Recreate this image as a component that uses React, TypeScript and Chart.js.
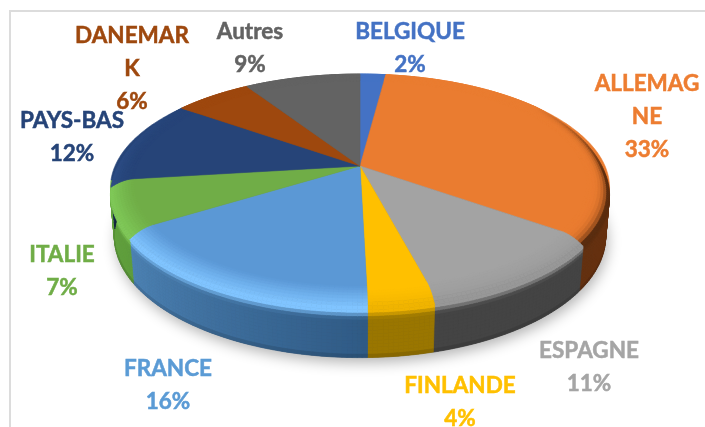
import React, { useEffect, useRef } from "react";
import { Chart, registerables } from "chart.js";

Chart.register(...registerables);

const countries = ["BELGIQUE", "ALLEMAGNE", "ESPAGNE", "FINLANDE", "FRANCE", "ITALIE", "PAYS-BAS", "DANEMARK", "Autres"];
const shares = [2, 33, 11, 3.6, 16.4, 7, 12, 6, 9];
const labelLines = [["BELGIQUE"], ["ALLEMAG", "NE"], ["ESPAGNE"], ["FINLANDE"], ["FRANCE"], ["ITALIE"], ["PAYS-BAS"], ["DANEMAR", "K"], ["Autres"]];
const topColors = ["#4472c4", "#ea7c30", "#a3a3a3", "#ffc000", "#5b98d5", "#70ad47", "#264478", "#9e480e", "#636363"];
const textColors = ["#4472c4", "#ed7d31", "#a5a5a5", "#ffc000", "#5b9bd5", "#70ad47", "#264478", "#9e480e", "#636363"];
const rimColors = ["#4472c4", "#5a2c0e", "#989898", "#f0b400", "#80c4ff", "#7fc858", "#2c4c84", "#9e480e", "#636363"];
const bevelSharpness = [2, 5, 2, 2.5, 1.3, 1.3, 2, 2, 2];
const wallStart = ["#2a4a80", "#6e3612", "#444444", "#9a7600", "#2f5a85", "#5f9e3c", "#162848", "#5e2b08", "#3a3a3a"];
const wallEnd = ["#2a4a80", "#643010", "#444444", "#9a7600", "#4c82b4", "#62a23e", "#162848", "#5e2b08", "#3a3a3a"];
const labelCenters = [[410, 32], [647, 84], [589, 351], [460, 386], [168, 369], [62, 255], [72, 121], [132, 36], [250, 32]];

const PERSPECTIVE = 0.19;
const SCALE_X = 245 / 166;
const SCALE_Y = 109.4 / 166;
const DEPTH = 48;
const BEVEL_DROP = 7;
const BEVEL_START = 0.91;
const BOTTOM_SHRINK = 0.985;
const LINE_HEIGHT = 33;

type RGB = [number, number, number];
const rgb = (hex: string): RGB => [parseInt(hex.slice(1, 3), 16), parseInt(hex.slice(3, 5), 16), parseInt(hex.slice(5, 7), 16)];
const mix = (a: RGB, b: RGB, f: number): RGB => [a[0] + (b[0] - a[0]) * f, a[1] + (b[1] - a[1]) * f, a[2] + (b[2] - a[2]) * f];
const css = (c: RGB) => `rgb(${Math.round(c[0])},${Math.round(c[1])},${Math.round(c[2])})`;

const pie3d = {
  id: "pie3d",
  beforeDatasetsDraw(chart: any) {
    const ctx: CanvasRenderingContext2D = chart.ctx;
    const arcs = chart.getDatasetMeta(0).data as any[];
    const first = arcs[0];
    const cx = first.x;
    const cy = first.y;
    const rx = first.outerRadius * SCALE_X;
    const ry = first.outerRadius * SCALE_Y;
    const point = (angle: number, r: number, z: number): [number, number] => {
      const t = angle + Math.PI / 2;
      const u = Math.sin(t) * r;
      const v = -Math.cos(t) * r;
      const w = 1 / (1 - PERSPECTIVE * v);
      return [cx + rx * u * w, cy + ry * v * w + z * w];
    };
    const frontness = (angle: number) => Math.min(1, Math.max(0, (Math.sin(angle) + 0.6) / 0.6));
    const wallRadius = (z: number) => 1 - ((1 - BOTTOM_SHRINK) * Math.max(0, z - BEVEL_DROP)) / (DEPTH - BEVEL_DROP);
    const quad = (a: number, b: number, ra0: number, ra1: number, za0: number, zb0: number, za1: number, zb1: number, color: string) => {
      const p = [point(a, ra0, za0), point(b, ra0, zb0), point(b, ra1, zb1), point(a, ra1, za1)];
      ctx.beginPath();
      p.forEach((q, i) => (i ? ctx.lineTo(q[0], q[1]) : ctx.moveTo(q[0], q[1])));
      ctx.closePath();
      ctx.fillStyle = color;
      ctx.strokeStyle = color;
      ctx.lineWidth = 0.7;
      ctx.fill();
      ctx.stroke();
    };
    const STEP = Math.PI / 180;

    // soft shadow of the silhouette
    ctx.save();
    ctx.shadowColor = "rgba(0,0,0,0.3)";
    ctx.shadowBlur = 14;
    ctx.shadowOffsetY = 5;
    ctx.shadowOffsetX = 2;
    ctx.fillStyle = "#555";
    ctx.beginPath();
    for (let i = 0; i <= 360; i += 2) {
      const q = point((i * Math.PI) / 180, BOTTOM_SHRINK, DEPTH);
      i ? ctx.lineTo(q[0], q[1]) : ctx.moveTo(q[0], q[1]);
    }
    ctx.closePath();
    ctx.fill();
    ctx.restore();

    // side walls
    arcs.forEach((arc, i) => {
      const rim = rgb(rimColors[i]);
      const top = rgb(topColors[i]);
      const wa = rgb(wallStart[i]);
      const wb = rgb(wallEnd[i]);
      const span = arc.endAngle - arc.startAngle;
      const n = Math.max(1, Math.ceil(span / STEP));
      for (let s = 0; s < n; s++) {
        const a = arc.startAngle + (span * s) / n;
        const b = arc.startAngle + (span * (s + 1)) / n;
        const wall = mix(wa, wb, (s + 0.5) / n);
        const fa = frontness(a);
        const fb = frontness(b);
        const edge = mix(top, rim, fa);
        const layers = 14;
        for (let k = 0; k < layers; k++) {
          const lift = (z: number, f: number) => BEVEL_DROP * f + (DEPTH - BEVEL_DROP * f) * z;
          const z0 = k / layers;
          const z1 = (k + 1) / layers;
          const f = Math.min(1, k / 2.2);
          let c = mix(edge, wall, f);
          if (k === layers - 1) c = mix(c, [0, 0, 0], 0.12);
          quad(a, b, wallRadius(lift(z0, fa)), wallRadius(lift(z1, fa)), lift(z0, fa), lift(z0, fb), lift(z1, fa), lift(z1, fb), css(c));
        }
      }
    });

    // top faces
    arcs.forEach((arc, i) => {
      ctx.beginPath();
      ctx.moveTo(cx, cy);
      const span = arc.endAngle - arc.startAngle;
      const n = Math.max(2, Math.ceil(span / STEP));
      for (let s = 0; s <= n; s++) {
        const q = point(arc.startAngle + (span * s) / n, 1, 0);
        ctx.lineTo(q[0], q[1]);
      }
      ctx.closePath();
      ctx.fillStyle = topColors[i];
      ctx.strokeStyle = topColors[i];
      ctx.lineWidth = 0.6;
      ctx.fill();
      ctx.stroke();
    });

    // bevel band along the rim: slopes down from the flat face to the wall
    arcs.forEach((arc, i) => {
      const rim = rgb(rimColors[i]);
      const top = rgb(topColors[i]);
      const span = arc.endAngle - arc.startAngle;
      const n = Math.max(1, Math.ceil(span / STEP));
      for (let s = 0; s < n; s++) {
        const a = arc.startAngle + (span * s) / n;
        const b = arc.startAngle + (span * (s + 1)) / n;
        const fa = frontness(a);
        const fb = frontness(b);
        const layers = 8;
        for (let k = 0; k < layers; k++) {
          const p0 = k / layers;
          const p1 = (k + 1) / layers;
          const r0 = BEVEL_START + (1 - BEVEL_START) * p0;
          const r1 = BEVEL_START + (1 - BEVEL_START) * p1;
          const f = Math.pow(p1, bevelSharpness[i]) * fa;
          quad(a, b, r0, r1, BEVEL_DROP * fa * p0 * p0, BEVEL_DROP * fb * p0 * p0, BEVEL_DROP * fa * p1 * p1, BEVEL_DROP * fb * p1 * p1, css(mix(top, rim, f)));
        }
      }
    });
    return false;
  },
  afterDraw(chart: any) {
    const ctx: CanvasRenderingContext2D = chart.ctx;
    const total = shares.reduce((a, b) => a + b, 0);
    ctx.save();
    ctx.font = 'bold 22.5px Lato, "Open Sans", sans-serif';
    ctx.textAlign = "center";
    ctx.textBaseline = "middle";
    ctx.lineWidth = 0.5;
    shares.forEach((value, i) => {
      const lines = [...labelLines[i], `${Math.round((value / total) * 100)}%`];
      ctx.fillStyle = textColors[i];
      ctx.strokeStyle = textColors[i];
      lines.forEach((line, j) => {
        ctx.fillText(line, labelCenters[i][0], labelCenters[i][1] + j * LINE_HEIGHT);
        ctx.strokeText(line, labelCenters[i][0], labelCenters[i][1] + j * LINE_HEIGHT);
      });
    });
    ctx.restore();
  },
};

export default function App() {
  const ref = useRef<HTMLCanvasElement>(null);
  useEffect(() => {
    const chart = new Chart(ref.current!, {
      type: "pie",
      data: {
        labels: countries,
        datasets: [{ data: shares, backgroundColor: topColors, borderWidth: 0 }],
      },
      options: {
        animation: false,
        responsive: false,
        layout: { padding: { left: 15, right: 0, top: 0, bottom: 95 } },
        plugins: { legend: { display: false }, tooltip: { enabled: false } },
      },
      plugins: [pie3d],
    } as any);
    return () => chart.destroy();
  }, []);
  return (
    <div style={{ position: "fixed", left: 0, top: 0, width: 705, height: 427, background: "#fff", overflow: "hidden" }}>
      <div style={{ position: "absolute", left: 9, top: 10, width: 720, height: 440, borderLeft: "2px solid #dcdcdc", borderTop: "2px solid #dcdcdc" }} />
      <canvas ref={ref} width={705} height={427} style={{ position: "absolute", left: 0, top: 0, width: 705, height: 427, filter: "blur(0.5px)" }} />
    </div>
  );
}
